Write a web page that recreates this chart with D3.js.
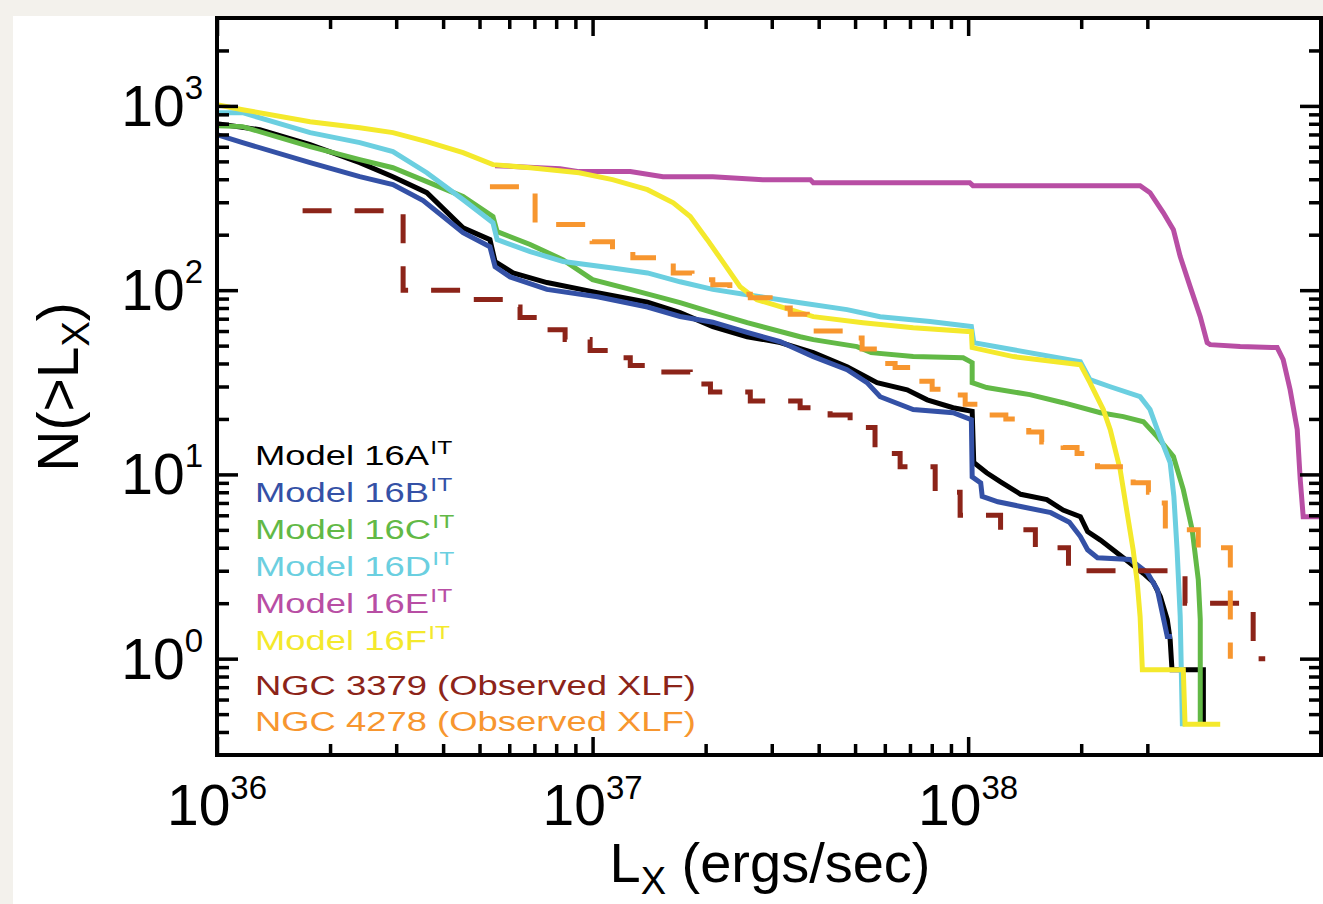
<!DOCTYPE html>
<html>
<head>
<meta charset="utf-8">
<script src="https://cdn.jsdelivr.net/npm/d3@7"></script>
<style>
html, body { margin: 0; padding: 0; background: #f3f1ec; }
svg { display: block; }
text { font-family: 'Liberation Sans', Arial, Helvetica, sans-serif; }
</style>
</head>
<body>
<script>

// ================================================================================================
// Data: cumulative X-ray luminosity functions, [L_x (ergs/sec), N(>L_x)]

var model16A = [
    [1.00e36, 800], [1.30e36, 743], [1.77e36, 616], [2.40e36, 492], [2.94e36, 413],
    [3.62e36, 338], [4.52e36, 218], [5.33e36, 188], [5.50e36, 143], [6.14e36, 124],
    [7.56e36, 110], [1.03e37, 97], [1.40e37, 86], [1.71e37, 75.5], [2.09e37, 63.4],
    [2.58e37, 55.9], [3.16e37, 52], [3.87e37, 45.8], [4.76e37, 38.4], [5.72e37, 31.5],
    [6.88e37, 28.8], [7.78e37, 25.4], [9.12e37, 23.0], [1.025e38, 22], [1.035e38, 11.6],
    [1.12e38, 10.2], [1.22e38, 9.1], [1.38e38, 7.8], [1.62e38, 7.3], [1.79e38, 6.4],
    [1.99e38, 5.9], [2.08e38, 4.9], [2.25e38, 4.4], [2.43e38, 3.9], [2.93e38, 2.9],
    [3.11e38, 2.6], [3.25e38, 2.17], [3.39e38, 1.63], [3.45e38, 1.27], [3.49e38, 0.87],
    [4.23e38, 0.87], [4.23e38, 0.45]
];

var model16B = [
    [1.00e36, 698], [1.17e36, 632], [1.77e36, 492], [2.40e36, 413], [2.94e36, 374],
    [3.54e36, 306], [4.52e36, 205], [5.33e36, 172], [5.50e36, 134], [6.03e36, 118],
    [7.56e36, 101], [1.03e37, 92], [1.40e37, 81], [1.71e37, 72], [2.09e37, 67],
    [2.58e37, 59], [3.16e37, 52.5], [3.87e37, 43.6], [4.76e37, 37.0], [5.38e37, 31.5],
    [5.83e37, 26.4], [7.14e37, 22.5], [9.12e37, 21.6], [1.02e38, 19.8], [1.025e38, 9.7],
    [1.08e38, 9.0], [1.09e38, 7.6], [1.20e38, 7.1], [1.38e38, 6.7], [1.66e38, 6.2],
    [1.86e38, 5.5], [1.99e38, 4.6], [2.08e38, 3.9], [2.21e38, 3.53], [2.70e38, 3.45],
    [3.00e38, 2.93], [3.19e38, 2.37], [3.39e38, 1.32], [3.49e38, 1.32]
];

var model16C = [
    [1.00e36, 781], [1.17e36, 772], [1.77e36, 601], [2.40e36, 511], [2.94e36, 462],
    [3.62e36, 388], [4.52e36, 322], [5.43e36, 251], [5.57e36, 208], [6.82e36, 177],
    [8.35e36, 146], [1.00e37, 114], [1.26e37, 101], [1.71e37, 85.5], [2.09e37, 75.5],
    [2.58e37, 66.6], [3.57e37, 55.9], [3.87e37, 53.9], [5.06e37, 49.4], [5.52e37, 45.8],
    [7.14e37, 43.6], [9.70e37, 43.0], [1.025e38, 40.4], [1.025e38, 31.5], [1.12e38, 29.6],
    [1.46e38, 27.1], [1.79e38, 24.5], [2.25e38, 21.6], [2.59e38, 20.6], [2.93e38, 19.3],
    [3.19e38, 16.0], [3.52e38, 12.5], [3.74e38, 8.27], [3.95e38, 5.0], [4.10e38, 2.68],
    [4.15e38, 1.63], [4.15e38, 0.45]
];

var model16D = [
    [1.00e36, 919], [1.17e36, 919], [1.77e36, 716], [2.40e36, 632], [2.94e36, 565],
    [3.62e36, 434], [4.52e36, 310], [5.43e36, 232], [5.57e36, 188], [6.82e36, 162],
    [8.35e36, 143], [1.13e37, 132], [1.40e37, 124], [1.71e37, 111], [2.09e37, 101],
    [2.58e37, 94.5], [3.57e37, 85.5], [4.76e37, 78.4], [5.83e37, 71.8], [7.92e37, 67.5],
    [1.02e38, 63.4], [1.035e38, 51.9], [1.32e38, 47.5], [1.99e38, 40.9], [2.11e38, 32.7],
    [2.39e38, 29.9], [2.87e38, 26.4], [3.05e38, 22.5], [3.19e38, 17.5], [3.45e38, 11.6],
    [3.53e38, 7.6], [3.60e38, 3.9], [3.67e38, 1.69], [3.72e38, 0.43]
];

var model16E = [
    [5.50e36, 474], [8.19e36, 456], [9.21e36, 440], [1.26e37, 440], [1.54e37, 413],
    [2.09e37, 413], [2.84e37, 398], [3.80e37, 398], [3.87e37, 383], [1.01e38, 383],
    [1.03e38, 369], [2.87e38, 369], [3.05e38, 338], [3.31e38, 263], [3.52e38, 213],
    [3.67e38, 152], [3.90e38, 104.5], [4.15e38, 71.8], [4.33e38, 51.9], [4.41e38, 50.6],
    [5.30e38, 49.4], [6.65e38, 48.8], [6.90e38, 42.0], [7.20e38, 28.8], [7.52e38, 17.5],
    [7.66e38, 9.37], [7.80e38, 5.90], [9.20e38, 5.90]
];

var model16F = [
    [1.00e36, 1016], [1.17e36, 954], [1.77e36, 821], [2.40e36, 762], [2.94e36, 716],
    [3.62e36, 640], [4.52e36, 558], [5.43e36, 480], [6.82e36, 462], [9.21e36, 434],
    [1.13e37, 398], [1.40e37, 351], [1.64e37, 298], [1.82e37, 251], [2.02e37, 188],
    [2.23e37, 141], [2.47e37, 104.5], [2.74e37, 88.8], [3.16e37, 81.4], [3.87e37, 71.8],
    [5.25e37, 66.6], [7.14e37, 62.6], [1.02e38, 59.5], [1.025e38, 48.8], [1.32e38, 43.6],
    [1.99e38, 39.4], [2.11e38, 31.5], [2.29e38, 22.5], [2.39e38, 17.5], [2.54e38, 10.6],
    [2.65e38, 6.2], [2.75e38, 3.9], [2.82e38, 2.59], [2.87e38, 1.69], [2.91e38, 0.87],
    [3.74e38, 0.87], [3.78e38, 0.44], [4.69e38, 0.44]
];

// Observed XLFs (step functions)
var ngc3379 = [
    [1.69e36, 270], [3.13e36, 100], [4.72e36, 89], [5.78e36, 81], [6.41e36, 71],
    [7.47e36, 61], [8.45e36, 54], [9.85e36, 47], [1.11e37, 43], [1.26e37, 39],
    [1.47e37, 36], [1.82e37, 31], [2.06e37, 28], [2.63e37, 25], [3.57e37, 23],
    [4.29e37, 21], [4.85e37, 18], [5.65e37, 13], [6.59e37, 11], [8.17e37, 8],
    [9.52e37, 6], [1.22e38, 5], [1.51e38, 4], [1.85e38, 3], [3.78e38, 2],
    [5.74e38, 1], [6.18e38, 1]
];

var ngc4278 = [
    [5.33e36, 364], [7.03e36, 227], [9.97e36, 183], [1.13e37, 166], [1.28e37, 150],
    [1.49e37, 141], [1.64e37, 124], [1.84e37, 114], [2.09e37, 107], [2.32e37, 95],
    [2.63e37, 91], [2.97e37, 80], [3.36e37, 74], [3.73e37, 60], [4.85e37, 55],
    [5.22e37, 48], [5.83e37, 40], [6.39e37, 38], [7.31e37, 32], [8.02e37, 29],
    [9.12e37, 27], [9.82e37, 24], [1.11e38, 21], [1.26e38, 20], [1.45e38, 17],
    [1.57e38, 15], [1.79e38, 14], [1.95e38, 13], [2.21e38, 11], [2.75e38, 9],
    [3.02e38, 8], [3.25e38, 7], [3.35e38, 5], [4.10e38, 4], [4.99e38, 1]
];

var series_names = ['Model 16A', 'Model 16B', 'Model 16C', 'Model 16D', 'Model 16E', 'Model 16F',
    'NGC 3379 (Observed XLF)', 'NGC 4278 (Observed XLF)'];
var series_sup = ['IT', 'IT', 'IT', 'IT', 'IT', 'IT', '', ''];
var series_data = [model16A, model16B, model16C, model16D, model16E, model16F, ngc3379, ngc4278];
var series_colors = ['#000000', '#3451a6', '#62b946', '#6bcfe0', '#b84ea4', '#f4e92c', '#8c2419', '#f7962f'];
var series_observed = [false, false, false, false, false, false, true, true];

// Axis ticks
var x_major = [1e36, 1e37, 1e38];
var x_exp = ['36', '37', '38'];
var x_minor = [2e36, 3e36, 4e36, 5e36, 6e36, 7e36, 8e36, 9e36,
    2e37, 3e37, 4e37, 5e37, 6e37, 7e37, 8e37, 9e37, 2e38, 3e38];
var y_major = [1, 10, 100, 1000];
var y_exp = ['0', '1', '2', '3'];
var y_minor = [0.4, 0.5, 0.6, 0.7, 0.8, 0.9, 2, 3, 4, 5, 6, 7, 8, 9,
    20, 30, 40, 50, 60, 70, 80, 90, 200, 300, 400, 500, 600, 700, 800, 900, 2000];

// ================================================================================================
// Layout

var width = 1323, height = 904;
var plot_left = 217, plot_right = 1321, plot_top = 18, plot_bottom = 755;

var svg = d3.select('body').append('svg')
    .attr('width', width)
    .attr('height', height);

// white sheet on the paper background
svg.append('rect')
    .attr('x', 13).attr('y', 16)
    .attr('width', width - 13).attr('height', height - 16)
    .attr('fill', '#ffffff');

var x = d3.scaleLog().domain([1e36, 8.7e38]).range([plot_left, plot_right]);
var y = d3.scaleLog().domain([0.3, 3000]).range([plot_bottom, plot_top]);

svg.append('clipPath').attr('id', 'plot-clip')
    .append('rect')
    .attr('x', plot_left).attr('y', plot_top)
    .attr('width', plot_right - plot_left).attr('height', plot_bottom - plot_top);

// ================================================================================================
// Curves

var line_model = d3.line()
    .x(function (d) { return x(d[0]); })
    .y(function (d) { return y(d[1]); });

var line_observed = d3.line()
    .curve(d3.curveStepAfter)
    .x(function (d) { return x(d[0]); })
    .y(function (d) { return y(d[1]); });

var curves = svg.append('g').attr('clip-path', 'url(#plot-clip)');

series_data.forEach(function (data, i) {
    curves.append('path')
        .attr('d', series_observed[i] ? line_observed(data) : line_model(data))
        .attr('fill', 'none')
        .attr('stroke', series_colors[i])
        .attr('stroke-width', 5)
        .attr('stroke-linejoin', 'miter')
        .attr('stroke-dasharray', series_observed[i] ? '29,23' : null);
});

// ================================================================================================
// Axes: ticks point inwards on all four sides

function style_axis(g) {
    g.select('.domain').remove();
    g.selectAll('.tick line').attr('stroke', '#000').attr('stroke-width', 3.5);
    g.selectAll('.tick text').remove();
}

function add_axis(axis, tx, ty, values, size) {
    svg.append('g')
        .attr('transform', 'translate(' + tx + ',' + ty + ')')
        .call(axis.tickValues(values).tickSizeInner(-size).tickSizeOuter(0))
        .call(style_axis);
}

add_axis(d3.axisBottom(x), 0, plot_bottom, x_major, 18);
add_axis(d3.axisBottom(x), 0, plot_bottom, x_minor, 11);
add_axis(d3.axisTop(x), 0, plot_top, x_major, 18);
add_axis(d3.axisTop(x), 0, plot_top, x_minor, 11);
add_axis(d3.axisLeft(y), plot_left, 0, y_major, 21);
add_axis(d3.axisLeft(y), plot_left, 0, y_minor, 12);
add_axis(d3.axisRight(y), plot_right, 0, y_major, 21);
add_axis(d3.axisRight(y), plot_right, 0, y_minor, 12);

// frame
svg.append('rect')
    .attr('x', plot_left).attr('y', plot_top)
    .attr('width', plot_right - plot_left).attr('height', plot_bottom - plot_top)
    .attr('fill', 'none')
    .attr('stroke', '#000')
    .attr('stroke-width', 4);

// Tick labels as 10^n
x_major.forEach(function (v, i) {
    var t = svg.append('text')
        .attr('x', x(v))
        .attr('y', 825)
        .attr('text-anchor', 'middle')
        .attr('font-size', 57)
        .attr('fill', '#000');
    t.append('tspan').text('10');
    t.append('tspan').attr('dy', -26).attr('font-size', 33).text(x_exp[i]);
});

y_major.forEach(function (v, i) {
    var t = svg.append('text')
        .attr('x', 203)
        .attr('y', y(v) + 20)
        .attr('text-anchor', 'end')
        .attr('font-size', 57)
        .attr('fill', '#000');
    t.append('tspan').text('10');
    t.append('tspan').attr('dy', -27).attr('font-size', 33).text(y_exp[i]);
});

// Axis titles
var xt = svg.append('text')
    .attr('x', 770)
    .attr('y', 882)
    .attr('text-anchor', 'middle')
    .attr('font-size', 56)
    .attr('fill', '#000');
xt.append('tspan').text('L');
xt.append('tspan').attr('dy', 12).attr('font-size', 38).text('X');
xt.append('tspan').attr('dy', -12).text(' (ergs/sec)');

var yt = svg.append('text')
    .attr('transform', 'translate(78,387) rotate(-90)')
    .attr('text-anchor', 'middle')
    .attr('font-size', 57)
    .attr('fill', '#000');
yt.append('tspan').text('N(>L');
yt.append('tspan').attr('dy', 11).attr('font-size', 38).text('X');
yt.append('tspan').attr('dy', -11).text(')');

// ================================================================================================
// Legend (text only, in series colours)

var legend_y = [465, 502, 539, 576, 613, 650, 695, 731];

var legend = svg.append('g')
    .attr('transform', 'translate(255,0) scale(1.3,1)');

series_names.forEach(function (name, i) {
    var t = legend.append('text')
        .attr('x', 0)
        .attr('y', legend_y[i])
        .attr('font-size', 28)
        .attr('fill', series_colors[i]);
    t.append('tspan').text(name);
    if (series_sup[i]) {
        t.append('tspan')
            .attr('dy', -11)
            .attr('dx', 1)
            .attr('font-size', 19)
            .text(series_sup[i]);
    }
});

</script>
</body>
</html>
